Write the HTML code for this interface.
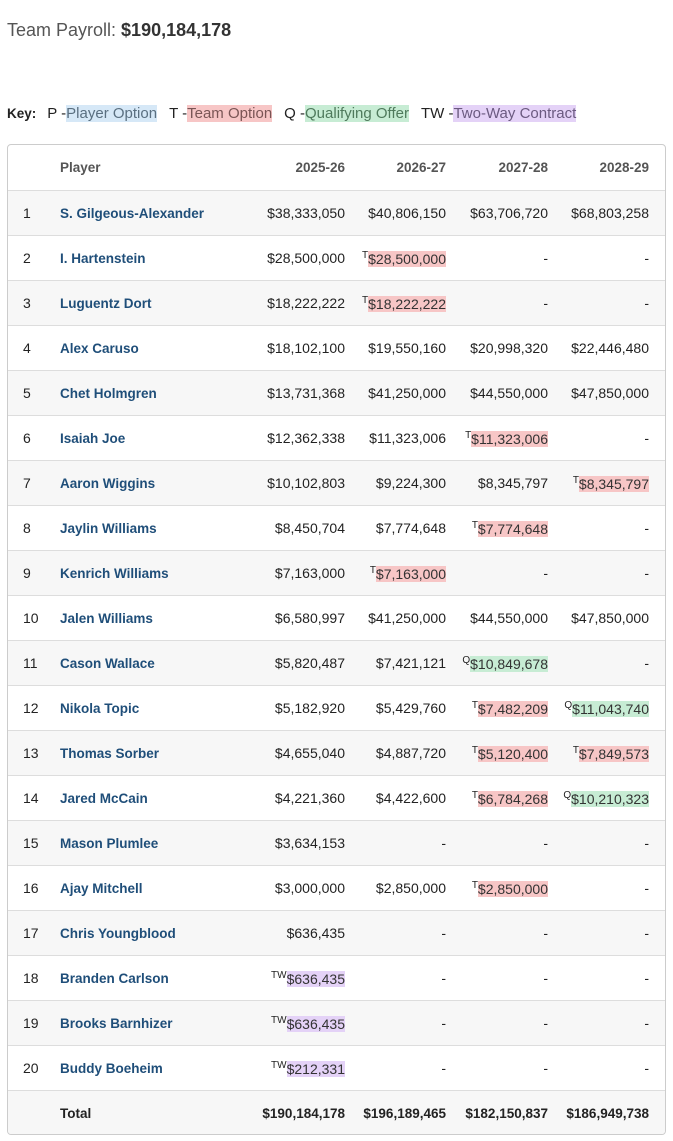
<!DOCTYPE html>
<html><head><meta charset="utf-8">
<style>
body{margin:0;background:#fff;font-family:"Liberation Sans",sans-serif;width:673px;height:1141px;position:relative;overflow:hidden}
#title{position:absolute;left:7px;top:20px;font-size:18px;color:#555}
#title b{color:#333}
#key{position:absolute;left:7px;top:105px;font-size:15px;color:#222;white-space:nowrap}
#key b{font-size:13.5px;margin-right:11px}
.k{margin-right:12px}
.P{background:#d6e8f7;color:#5a6f80}
.T{background:#f7c6c6;color:#333}
.Q{background:#c7ecd4;color:#333}
.W{background:#e4d2f7;color:#333}
#key .T{color:#7a5555}#key .Q{color:#4f7a5c}#key .W{color:#6b5a80}
#box{position:absolute;left:7px;top:144px;width:657px;height:989px;border:1px solid #ccc;border-radius:4px;overflow:hidden}
table{border-collapse:collapse;width:657px;table-layout:fixed;font-size:14px;color:#222}
td,th{height:44px;border-top:1px solid #ddd;padding:0;text-align:right;white-space:nowrap}
tr:first-child th{border-top:none;height:45px;font-size:13.5px;color:#555}
tr.g td{background:#f7f7f7}
.n{text-align:left;padding-left:15px}
.pl{text-align:left;color:#1f4e79;font-weight:bold;font-size:13.5px}
th.pl{color:#555}
sup{font-size:10px;vertical-align:6px}
.tot td{font-weight:bold;font-size:13.5px;background:#f7f7f7}
</style></head><body>
<div id="title">Team Payroll: <b>$190,184,178</b></div>
<div id="key"><b>Key:</b><span class="k">P -<span class="P">Player Option</span></span><span class="k">T -<span class="T">Team Option</span></span><span class="k">Q -<span class="Q">Qualifying Offer</span></span><span class="k">TW -<span class="W">Two-Way Contract</span></span></div>
<div id="box"><table id="t">
<colgroup><col style="width:52px"><col style="width:175px"><col style="width:110px"><col style="width:101px"><col style="width:102px"><col style="width:101px"><col style="width:16px"></colgroup>
<tr><th class="n"></th><th class="pl">Player</th><th>2025-26</th><th>2026-27</th><th>2027-28</th><th>2028-29</th><th></th></tr>
</table></div>
<script>
const players=["S. Gilgeous-Alexander","I. Hartenstein","Luguentz Dort","Alex Caruso","Chet Holmgren","Isaiah Joe","Aaron Wiggins","Jaylin Williams","Kenrich Williams","Jalen Williams","Cason Wallace","Nikola Topic","Thomas Sorber","Jared McCain","Mason Plumlee","Ajay Mitchell","Chris Youngblood","Branden Carlson","Brooks Barnhizer","Buddy Boeheim"];
const y2526=[38333050,28500000,18222222,18102100,13731368,12362338,10102803,8450704,7163000,6580997,5820487,5182920,4655040,4221360,3634153,3000000,636435,636435,636435,212331];
const y2627=[40806150,28500000,18222222,19550160,41250000,11323006,9224300,7774648,7163000,41250000,7421121,5429760,4887720,4422600,null,2850000,null,null,null,null];
const y2728=[63706720,null,null,20998320,44550000,11323006,8345797,7774648,null,44550000,10849678,7482209,5120400,6784268,null,2850000,null,null,null,null];
const y2829=[68803258,null,null,22446480,47850000,null,8345797,null,null,47850000,null,11043740,7849573,10210323,null,null,null,null,null,null];
const t2526=["","","","","","","","","","","","","","","","","","TW","TW","TW"];
const t2627=["","T","T","","","","","","T","","","","","","","","","","",""];
const t2728=["","","","","","T","","T","","","Q","T","T","T","","T","","","",""];
const t2829=["","","","","","","T","","","","","Q","T","Q","","","","","",""];
const totals=[190184178,196189465,182150837,186949738];
const fmt=v=>"$"+v.toLocaleString("en-US");
const cls={T:"T",Q:"Q",TW:"W",P:"P"};
const tbl=document.getElementById('t');
function cell(v,t){const td=document.createElement('td');
if(v==null){td.textContent='-';}else if(t){td.innerHTML='<sup>'+t+'</sup><span class="'+cls[t]+'">'+fmt(v)+'</span>';}else td.textContent=fmt(v);


return td;}
players.forEach((p,i)=>{const tr=document.createElement('tr');if(i%2==0)tr.className='g';


const n=document.createElement('td');n.className='n';n.textContent=i+1;tr.appendChild(n);
const pl=document.createElement('td');pl.className='pl';pl.textContent=p;


tr.appendChild(pl);
tr.appendChild(cell(y2526[i],t2526[i]));tr.appendChild(cell(y2627[i],t2627[i]));tr.appendChild(cell(y2728[i],t2728[i]));tr.appendChild(cell(y2829[i],t2829[i]));
tr.appendChild(document.createElement('td'));tbl.appendChild(tr);});
const tr=document.createElement('tr');tr.className='tot';


const a=document.createElement('td');a.className='n';tr.appendChild(a);
const b=document.createElement('td');b.className='pl';b.style.color='#222';b.textContent='Total';tr.appendChild(b);
totals.forEach(v=>{const td=document.createElement('td');td.textContent=fmt(v);tr.appendChild(td);});
tr.appendChild(document.createElement('td'));tbl.appendChild(tr);
</script>
</body></html>
